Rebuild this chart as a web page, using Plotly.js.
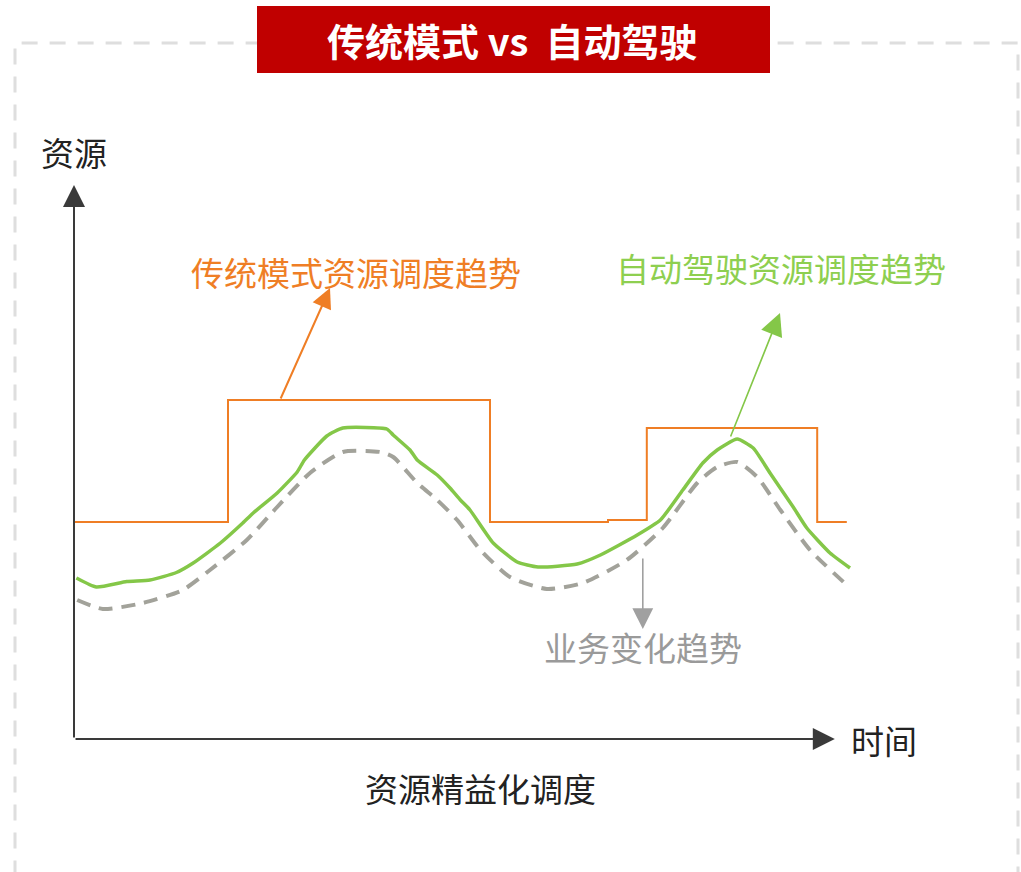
<!DOCTYPE html>
<html>
<head>
<meta charset="utf-8">
<script src="https://cdn.plot.ly/plotly-3.0.1.min.js"></script>
<style>html,body{margin:0;padding:0;background:#fff;}#chart{width:1021px;height:872px;}</style>
</head>
<body>
<div id="chart"></div>
<script>
// ---- data (time units, resource units) ----
const greenTime = [0.3, 2.8, 6.6, 9.5, 12.8, 14.9, 18.3, 21.1, 22.4, 25.4, 27.9, 28.8, 31.6, 33.6, 39.1, 39.9, 42.0, 42.9, 45.4, 47.0, 48.3, 49.5, 52.4, 55.4, 58.0, 62.9, 65.8, 70.4, 73.3, 76.1, 78.6, 80.4, 82.9, 84.9, 87.0, 89.9, 91.6, 94.5, 97.0];
const greenRes  = [32.2, 30.4, 31.5, 31.8, 33.3, 35.2, 39.2, 43.2, 45.2, 49.2, 53.4, 55.8, 60.6, 62.2, 62.0, 60.8, 57.8, 55.8, 52.8, 50.2, 47.8, 45.8, 39.2, 35.4, 34.4, 35.0, 36.8, 40.8, 43.8, 49.8, 55.2, 57.8, 60.0, 58.2, 53.2, 46.4, 42.2, 37.2, 34.2];

const demandTime = [0.4, 3.6, 8.6, 13.6, 17.0, 21.6, 25.4, 29.5, 33.6, 38.3, 39.9, 42.9, 45.4, 47.9, 50.8, 54.5, 59.1, 63.6, 69.1, 73.6, 77.9, 80.4, 82.9, 85.4, 88.3, 92.0, 96.6];
const demandRes  = [27.8, 26.0, 27.2, 29.8, 33.8, 39.8, 46.4, 53.2, 57.4, 57.4, 56.4, 51.2, 47.8, 43.8, 37.8, 32.4, 30.0, 31.2, 35.8, 42.2, 51.2, 54.4, 55.4, 52.4, 45.8, 37.8, 30.8];

const stepTime = [0, 19.25, 52, 66.75, 71.6, 92.9, 96.6];
const stepRes  = [43.4, 67.8, 43.4, 43.8, 62.2, 43.4, 43.4];

const titleText = '传统模式 vs&nbsp;&nbsp;自动驾驶';
const yLabel = '资源';
const xLabel = '时间';
const captionText = '资源精益化调度';
const orangeLabel = '传统模式资源调度趋势';
const greenLabel = '自动驾驶资源调度趋势';
const grayLabel = '业务变化趋势';

const FONT = '"Noto Sans CJK SC", "Noto Sans", sans-serif';
const ORANGE = '#EF7E25';
const GREEN = '#84C748';
const GREEN_TXT = '#8ECF50';
const GRAY = '#A2A29A';

const traces = [
  { x: stepTime, y: stepRes, mode: 'lines', line: { color: ORANGE, width: 2, shape: 'hv' }, hoverinfo: 'skip' },
  { x: demandTime, y: demandRes, mode: 'lines', line: { color: GRAY, width: 4, dash: '14px,9px', shape: 'spline', smoothing: 0.6 }, hoverinfo: 'skip' },
  { x: greenTime, y: greenRes, mode: 'lines', line: { color: GREEN, width: 3.5, shape: 'spline', smoothing: 0.5 }, hoverinfo: 'skip' }
];

function arrow(x, y, ax, ay, color, width, size) {
  return { x: x, y: y, ax: ax, ay: ay, xref: 'x', yref: 'y', axref: 'x', ayref: 'y', text: '',
    showarrow: true, arrowhead: 2, arrowwidth: width, arrowsize: size, arrowcolor: color, standoff: 0, startstandoff: 0 };
}
function label(x, y, text, color, size, bold) {
  return { x: x, y: y, xref: 'x', yref: 'y', text: bold ? '<b>' + text + '</b>' : text, showarrow: false,
    xanchor: 'center', yanchor: 'middle', font: { family: FONT, size: size, color: color } };
}

const layout = {
  width: 1021, height: 872, autosize: false,
  margin: { l: 0, r: 0, t: 0, b: 0, pad: 0 },
  paper_bgcolor: '#ffffff', plot_bgcolor: '#ffffff',
  showlegend: false,
  xaxis: { range: [-9.25, 118.375], visible: false, fixedrange: true },
  yaxis: { range: [-26.6, 147.8], visible: false, fixedrange: true },
  shapes: [
    { type: 'rect', xref: 'paper', yref: 'paper', x0: 15/1021, x1: 1018/1021, y0: -0.05, y1: 1 - 43/872,
      line: { color: '#DEDEDE', width: 3, dash: '16px,12px' }, fillcolor: 'rgba(0,0,0,0)', layer: 'below' },
    { type: 'rect', xref: 'paper', yref: 'paper', x0: 257/1021, x1: 770/1021, y0: 1 - 73/872, y1: 1 - 6/872,
      line: { width: 0 }, fillcolor: '#C00000', layer: 'above' }
  ],
  annotations: [
    arrow(0, 110.8, 0, 0, '#3a3a3a', 2, 2.2),
    arrow(95.1, 0, 0, 0, '#3a3a3a', 2, 2.2),
    arrow(32, 90.2, 25.75, 67.8, ORANGE, 2, 2),
    arrow(88.25, 85.2, 82, 60.2, GREEN, 1.6, 2.8),
    arrow(71.1, 22, 71.1, 36.4, '#A0A0A0', 1.6, 2.6),
    label(0, 117.4, yLabel, '#222222', 33),
    label(101.25, -0.2, xLabel, '#222222', 33),
    label(50.75, -9.8, captionText, '#222222', 33),
    label(35.3, 93.4, orangeLabel, ORANGE, 33),
    label(88.4, 94.2, greenLabel, GREEN_TXT, 33),
    label(71.1, 18.4, grayLabel, '#9A9A9A', 33),
    { x: 512/1021, y: 1 - 40/872, xref: 'paper', yref: 'paper', text: '<b>' + titleText + '</b>', showarrow: false,
      xanchor: 'center', yanchor: 'middle', font: { family: FONT, size: 38, color: '#ffffff' } }
  ]
};

Plotly.newPlot('chart', traces, layout, { staticPlot: true, displayModeBar: false });
</script>
</body>
</html>
